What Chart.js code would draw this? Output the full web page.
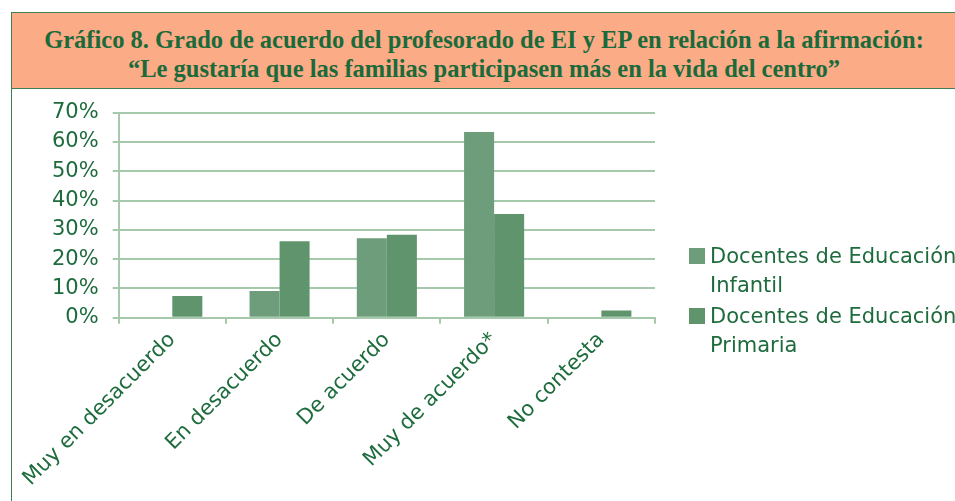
<!DOCTYPE html>
<html>
<head>
<meta charset="utf-8">
<script src="https://cdn.jsdelivr.net/npm/chart.js@4/dist/chart.umd.min.js"></script>
<style>
  body { margin:0; width:955px; height:501px; background:#fff; overflow:hidden; position:relative; }
  #titulo { position:absolute; left:11px; top:12px; width:960px; height:77px; background:#fcab87;
            border:1.5px solid #3f7f52; box-sizing:border-box; }
  #titulo div { position:absolute; left:0; width:944px; text-align:center; color:#1a6a3a;
            font-family:"Liberation Serif", serif; font-weight:bold; font-size:24.5px; white-space:nowrap; }
  #caixa { position:absolute; left:11px; top:88px; width:960px; height:430px; border-left:1.5px solid #3f7f52; }
  #wrap { position:absolute; left:12px; top:86px; width:943px; height:415px; }
  #legenda { position:absolute; left:689px; top:242px; font-family:"DejaVu Sans", sans-serif;
            font-size:21px; color:#1e6c3d; line-height:29px; white-space:nowrap; }
  .item { position:relative; padding-left:21px; margin-bottom:2px; }
  .item span { position:absolute; left:0; top:6px; width:16px; height:16px; }
</style>
</head>
<body>
<div id="titulo">
  <div style="top:13px">Gráfico 8. Grado de acuerdo del profesorado de EI y EP en relación a la afirmación:</div>
  <div style="top:42px">“Le gustaría que las familias participasen más en la vida del centro”</div>
</div>
<div id="caixa"></div>
<div id="wrap"><canvas id="canvas"></canvas></div>
<div id="legenda"></div>
<script>
var categorias = ['Muy en desacuerdo', 'En desacuerdo', 'De acuerdo', 'Muy de acuerdo*', 'No contesta'];
var infantil = [0, 9.1, 27.1, 63.4, 0];
var primaria = [7.4, 26.1, 28.3, 35.4, 2.5];
var nomeSerie1 = ['Docentes de Educación', 'Infantil'];
var nomeSerie2 = ['Docentes de Educación', 'Primaria'];

var verde = '#1e6c3d';
var grade = '#a6c8ab';

var barChartData = {
  labels: categorias,
  datasets: [{
    label: nomeSerie1.join(' '),
    backgroundColor: '#6d9d7a',
    borderWidth: 0,
    data: infantil
  }, {
    label: nomeSerie2.join(' '),
    backgroundColor: '#5f946d',
    borderWidth: 0,
    data: primaria
  }]
};

// legenda em html porque o texto quebra em duas linhas
function montaLegenda(){
  var leg = document.getElementById('legenda');
  var nomes = [nomeSerie1, nomeSerie2];
  for (var i = 0; i < nomes.length; i++){
    var d = document.createElement('div');
    d.className = 'item';
    d.innerHTML = '<span style="background:' + barChartData.datasets[i].backgroundColor + '"></span>' +
                  nomes[i][0] + '<br>' + nomes[i][1];
    leg.appendChild(d);
  }
}

window.onload = function() {
  var ctx = document.getElementById('canvas').getContext('2d');
  window.myBar = new Chart(ctx, {
    type: 'bar',
    data: barChartData,
    options: {
      responsive: true,
      maintainAspectRatio: false,
      animation: false,
      categoryPercentage: 0.56,
      barPercentage: 1,
      layout: { padding: { top: 6, right: 300, left: 26, bottom: 6 } },
      plugins: {
        legend: { display: false },
        title: { display: false },
        tooltip: { enabled: false }
      },
      scales: {
        x: {
          grid: { drawOnChartArea: false, drawTicks: true, tickLength: 6, color: grade, lineWidth: 2, offset: true },
          border: { color: grade, width: 2 },
          ticks: {
            color: verde, minRotation: 45, maxRotation: 45, padding: 4,
            font: { family: 'DejaVu Sans', size: 21 }
          }
        },
        y: {
          min: 0, max: 70,
          grid: { color: grade, lineWidth: 2, tickLength: 6 },
          border: { color: grade, width: 2 },
          ticks: {
            stepSize: 10, color: verde, padding: 14,
            font: { family: 'DejaVu Sans', size: 21 },
            callback: function(v){ return v + '%'; }
          }
        }
      }
    }
  });
  montaLegenda();
};
</script>
</body>
</html>
